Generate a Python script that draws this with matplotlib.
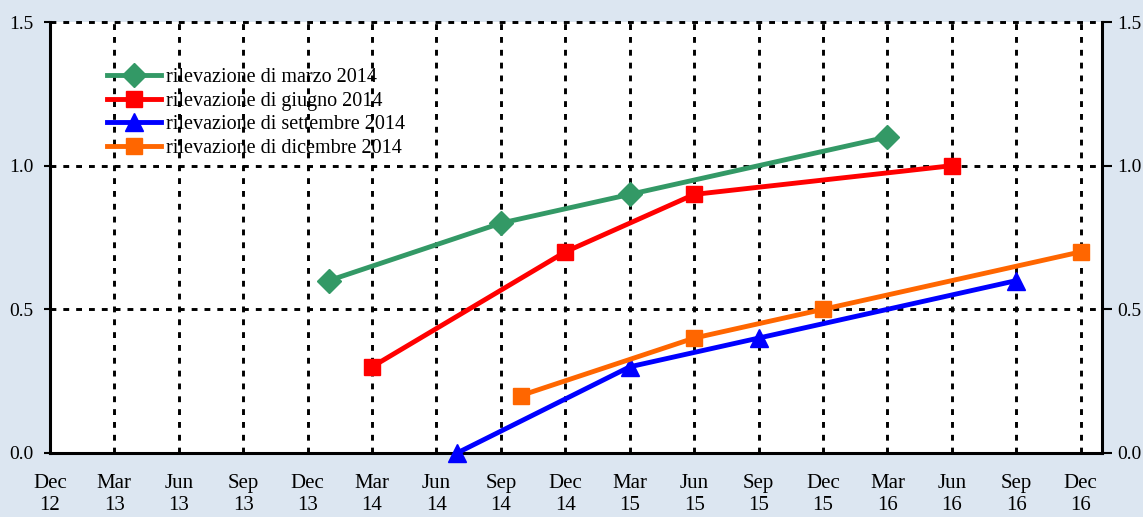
"""Rilevazioni 2014: profili attesi per trimestre, quattro indagini sovrapposte."""
import numpy as np
import matplotlib
matplotlib.use("Agg")
import matplotlib.pyplot as plt

# quarter labels (x index 0 = Dec 12)
QUARTERS = ["Dec\n12", "Mar\n13", "Jun\n13", "Sep\n13", "Dec\n13", "Mar\n14", "Jun\n14",
            "Sep\n14", "Dec\n14", "Mar\n15", "Jun\n15", "Sep\n15", "Dec\n15", "Mar\n16",
            "Jun\n16", "Sep\n16", "Dec\n16"]

# series: x as quarter index, y as values
marzo_x = [4.33, 7, 9, 13]
marzo_y = [0.6, 0.8, 0.9, 1.1]
giugno_x = [5, 8, 10, 14]
giugno_y = [0.3, 0.7, 0.9, 1.0]
settembre_x = [6.32, 9, 11, 15]
settembre_y = [0.0, 0.3, 0.4, 0.6]
dicembre_x = [7.31, 10, 12, 16]
dicembre_y = [0.2, 0.4, 0.5, 0.7]

LABELS = ["rilevazione di marzo 2014", "rilevazione di giugno 2014",
          "rilevazione di settembre 2014", "rilevazione di dicembre 2014"]
COLS = ["#339966", "#ff0000", "#0000ff", "#ff6600"]
MARKS = ["D", "s", "^", "s"]
MSIZE = [12, 11, 13, 11]
YTICKS = [0.0, 0.5, 1.0, 1.5]

BG = "#dce6f1"
plt.rcParams["font.family"] = ["Liberation Serif", "DejaVu Serif"]

fig = plt.figure(figsize=(11.43, 5.17), dpi=100, facecolor=BG)
ax = fig.add_axes([0.0437, 0.1238, 0.9204, 0.8336])
ax.set_facecolor("white")
ax.set_xlim(0, 16.33)
ax.set_ylim(0, 1.5)

grid_ls = (0, (2.0, 2.4))
for i in range(1, len(QUARTERS)):
    ax.axvline(i, color="black", lw=2.1, ls=grid_ls, zorder=1)
for y in YTICKS[1:]:
    ax.axhline(y, color="black", lw=2.1, ls=grid_ls, zorder=1, clip_on=False)

series = [(marzo_x, marzo_y), (giugno_x, giugno_y),
          (settembre_x, settembre_y), (dicembre_x, dicembre_y)]
for (xs, ys), lab, c, m, ms in zip(series, LABELS, COLS, MARKS, MSIZE):
    ax.plot(xs, ys, color=c, lw=3.5, marker=m, markersize=ms, label=lab,
            zorder=4, clip_on=False)

for s in ["top", "right"]:
    ax.spines[s].set_visible(False)
ax.spines["left"].set_linewidth(2.2)
ax.spines["bottom"].set_linewidth(2.2)
ax.set_xticks(range(len(QUARTERS)))
ax.set_xticklabels(QUARTERS, fontsize=15, linespacing=1.2)
ax.tick_params(axis="x", length=0, pad=15)
ax.set_yticks(YTICKS)
ax.set_yticklabels([f"{v:.1f}" for v in YTICKS], fontsize=14)
ax.tick_params(axis="y", length=4, width=1.5, pad=8)

ax2 = ax.twinx()
ax2.set_ylim(0, 1.5)
ax2.set_yticks(YTICKS)
ax2.set_yticklabels([f"{v:.1f}" for v in YTICKS], fontsize=14)
ax2.tick_params(axis="y", length=7, width=1.5, pad=4)
for s in ["top", "left", "bottom"]:
    ax2.spines[s].set_visible(False)
ax2.spines["right"].set_linewidth(2.2)

leg = ax.legend(loc="upper left", bbox_to_anchor=(0.054, 0.893), frameon=False,
                fontsize=14.5, handlelength=2.7, handletextpad=0.25, labelspacing=0.22,
                borderpad=0, borderaxespad=0)

fig.savefig("out.png", dpi=100, facecolor=BG)
